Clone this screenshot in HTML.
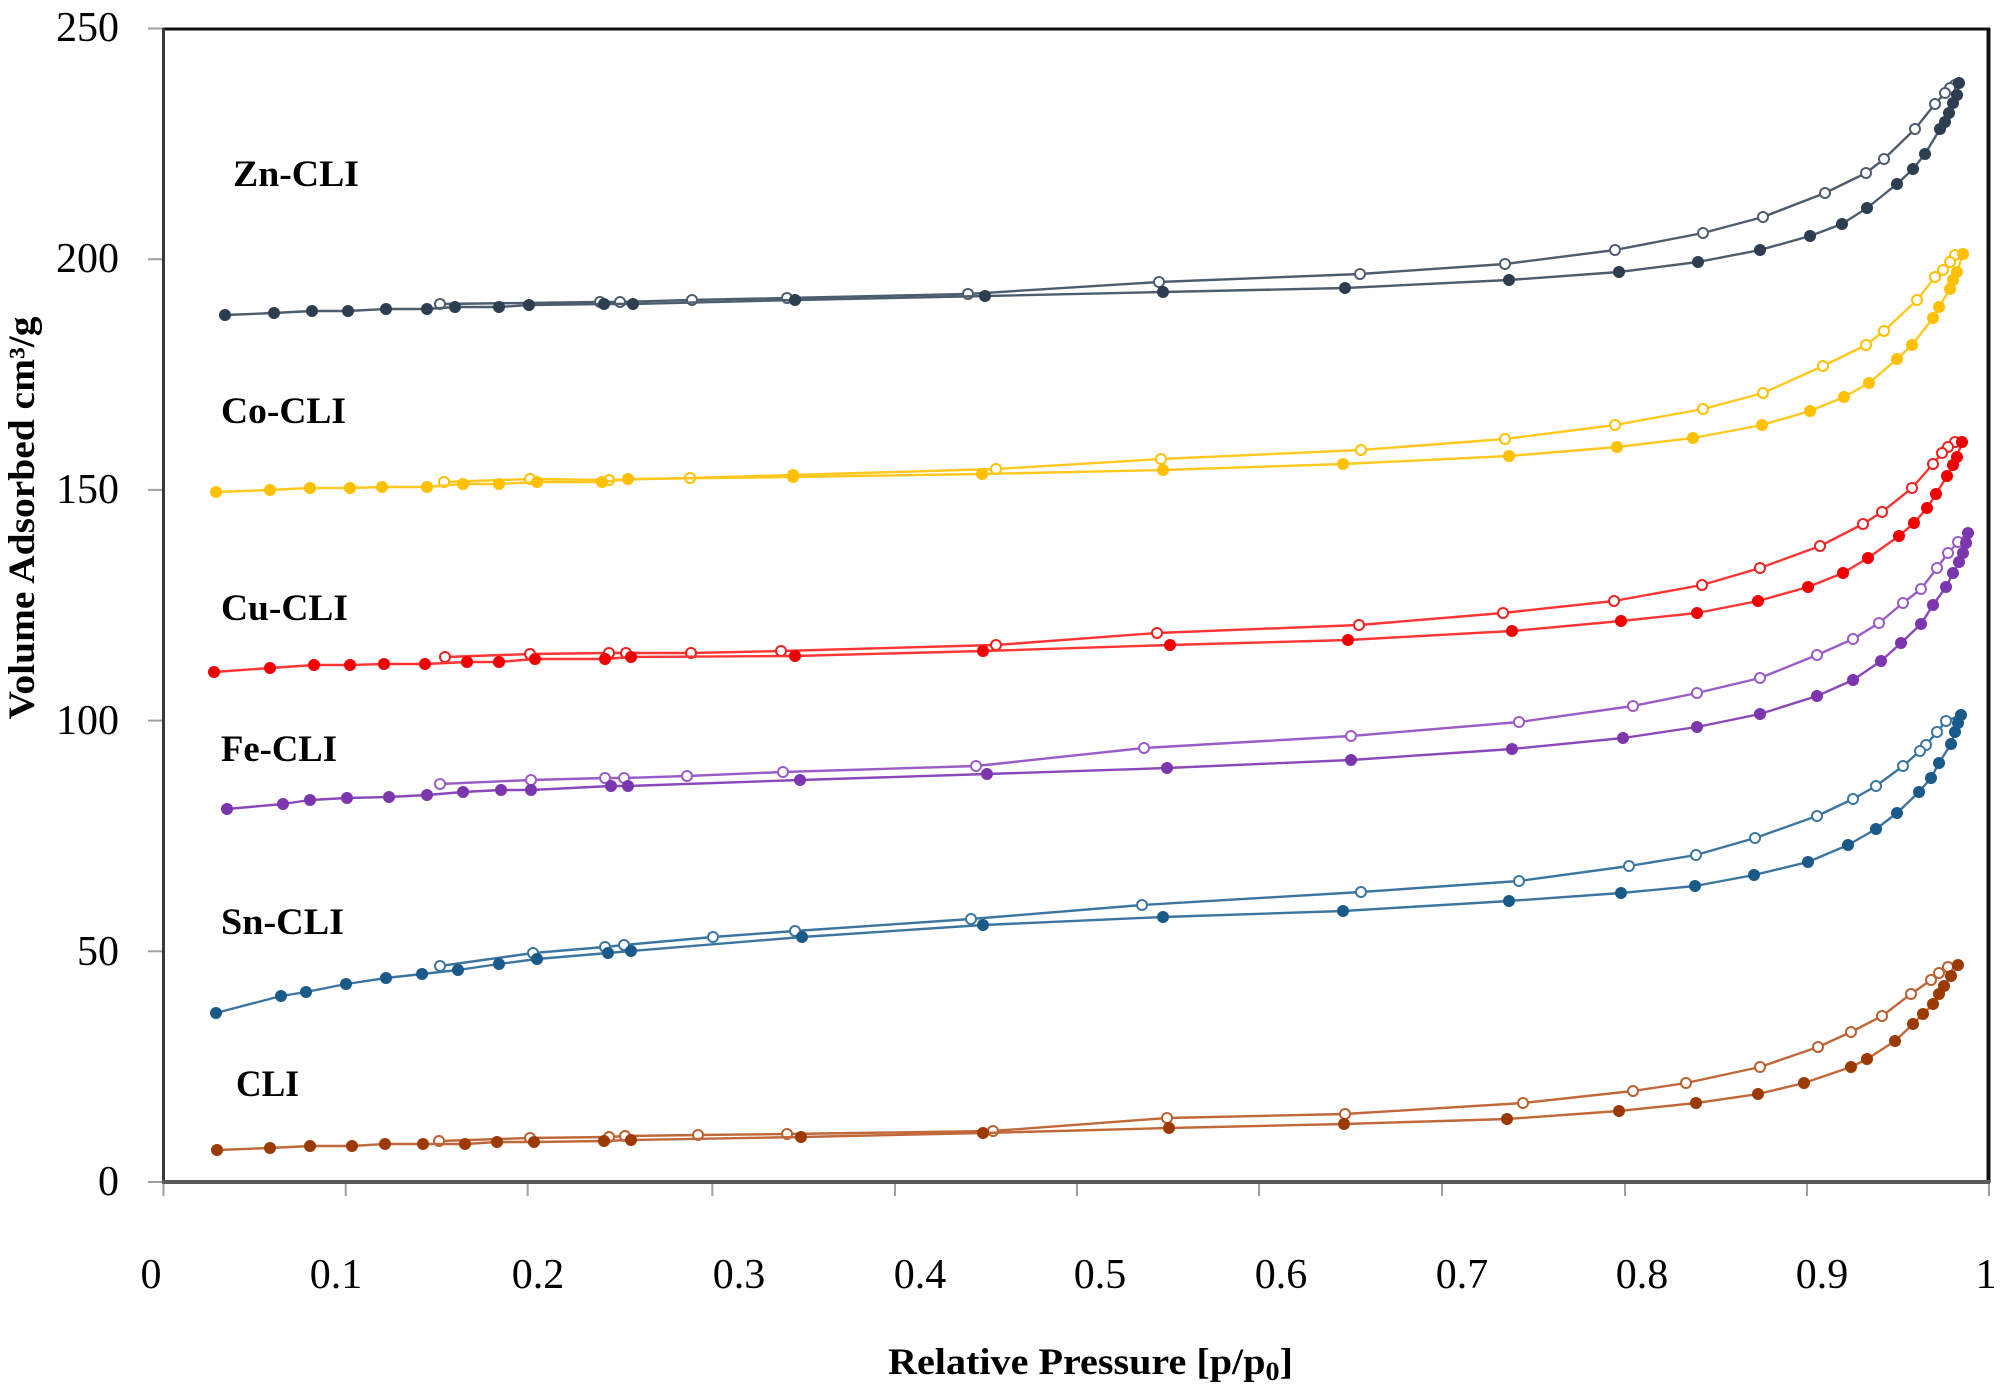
<!DOCTYPE html>
<html><head><meta charset="utf-8"><style>
html,body{margin:0;padding:0;background:#fff;}
svg{display:block;}
text{font-family:"Liberation Serif","DejaVu Serif",serif;fill:#000;}
</style></head><body>
<svg width="2007" height="1396" viewBox="0 0 2007 1396" xmlns="http://www.w3.org/2000/svg">
<defs>
<marker id="fZn" viewBox="0 0 14 14" refX="7" refY="7" markerWidth="14" markerHeight="14" markerUnits="userSpaceOnUse"><circle cx="7" cy="7" r="6" fill="#2C3E50"/></marker>
<marker id="oZn" viewBox="0 0 14 14" refX="7" refY="7" markerWidth="14" markerHeight="14" markerUnits="userSpaceOnUse"><circle cx="7" cy="7" r="5" fill="#fff" stroke="#4D5D6E" stroke-width="2"/></marker>
<marker id="fCo" viewBox="0 0 14 14" refX="7" refY="7" markerWidth="14" markerHeight="14" markerUnits="userSpaceOnUse"><circle cx="7" cy="7" r="6" fill="#FFC000"/></marker>
<marker id="oCo" viewBox="0 0 14 14" refX="7" refY="7" markerWidth="14" markerHeight="14" markerUnits="userSpaceOnUse"><circle cx="7" cy="7" r="5" fill="#fff" stroke="#FFC000" stroke-width="2"/></marker>
<marker id="fCu" viewBox="0 0 14 14" refX="7" refY="7" markerWidth="14" markerHeight="14" markerUnits="userSpaceOnUse"><circle cx="7" cy="7" r="6" fill="#EE0000"/></marker>
<marker id="oCu" viewBox="0 0 14 14" refX="7" refY="7" markerWidth="14" markerHeight="14" markerUnits="userSpaceOnUse"><circle cx="7" cy="7" r="5" fill="#fff" stroke="#F02020" stroke-width="2"/></marker>
<marker id="fFe" viewBox="0 0 14 14" refX="7" refY="7" markerWidth="14" markerHeight="14" markerUnits="userSpaceOnUse"><circle cx="7" cy="7" r="6" fill="#7B35AD"/></marker>
<marker id="oFe" viewBox="0 0 14 14" refX="7" refY="7" markerWidth="14" markerHeight="14" markerUnits="userSpaceOnUse"><circle cx="7" cy="7" r="5" fill="#fff" stroke="#9A5CC6" stroke-width="2"/></marker>
<marker id="fSn" viewBox="0 0 14 14" refX="7" refY="7" markerWidth="14" markerHeight="14" markerUnits="userSpaceOnUse"><circle cx="7" cy="7" r="6" fill="#1A5A88"/></marker>
<marker id="oSn" viewBox="0 0 14 14" refX="7" refY="7" markerWidth="14" markerHeight="14" markerUnits="userSpaceOnUse"><circle cx="7" cy="7" r="5" fill="#fff" stroke="#3B75A0" stroke-width="2"/></marker>
<marker id="fCL" viewBox="0 0 14 14" refX="7" refY="7" markerWidth="14" markerHeight="14" markerUnits="userSpaceOnUse"><circle cx="7" cy="7" r="6" fill="#9C3A05"/></marker>
<marker id="oCL" viewBox="0 0 14 14" refX="7" refY="7" markerWidth="14" markerHeight="14" markerUnits="userSpaceOnUse"><circle cx="7" cy="7" r="5" fill="#fff" stroke="#B9602F" stroke-width="2"/></marker>
</defs>
<rect x="0" y="0" width="2007" height="1396" fill="#fff"/>

<!-- ticks -->
<g stroke="#A0A0A0" stroke-width="2">
<line x1="148" y1="28.5" x2="164" y2="28.5"/>
<line x1="148" y1="259.2" x2="164" y2="259.2"/>
<line x1="148" y1="489.9" x2="164" y2="489.9"/>
<line x1="148" y1="720.6" x2="164" y2="720.6"/>
<line x1="148" y1="951.3" x2="164" y2="951.3"/>
<line x1="148" y1="1182" x2="164" y2="1182"/>
<line x1="163.5" y1="1182" x2="163.5" y2="1196"/>
<line x1="345.7" y1="1182" x2="345.7" y2="1196"/>
<line x1="527.7" y1="1182" x2="527.7" y2="1196"/>
<line x1="712.3" y1="1182" x2="712.3" y2="1196"/>
<line x1="895" y1="1182" x2="895" y2="1196"/>
<line x1="1077" y1="1182" x2="1077" y2="1196"/>
<line x1="1259" y1="1182" x2="1259" y2="1196"/>
<line x1="1442" y1="1182" x2="1442" y2="1196"/>
<line x1="1625" y1="1182" x2="1625" y2="1196"/>
<line x1="1807" y1="1182" x2="1807" y2="1196"/>
<line x1="1989" y1="1182" x2="1989" y2="1196"/>
</g>

<!-- frame -->
<line x1="163.5" y1="29" x2="1990" y2="29" stroke="#111" stroke-width="3"/>
<line x1="1988.5" y1="28" x2="1988.5" y2="1183" stroke="#111" stroke-width="4"/>
<line x1="163.5" y1="28" x2="163.5" y2="1184" stroke="#3A3A3A" stroke-width="3"/>
<line x1="162" y1="1182" x2="1990" y2="1182" stroke="#5A5A5A" stroke-width="4"/>

<!-- y tick labels -->
<g font-size="42" text-anchor="end">
<text x="119" y="41">250</text>
<text x="119" y="272">200</text>
<text x="119" y="503">150</text>
<text x="119" y="734">100</text>
<text x="119" y="965">50</text>
<text x="119" y="1195">0</text>
</g>
<!-- x tick labels -->
<g font-size="42" text-anchor="middle">
<text x="151" y="1288">0</text>
<text x="336" y="1288">0.1</text>
<text x="538" y="1288">0.2</text>
<text x="739" y="1288">0.3</text>
<text x="920" y="1288">0.4</text>
<text x="1100" y="1288">0.5</text>
<text x="1281" y="1288">0.6</text>
<text x="1462" y="1288">0.7</text>
<text x="1642" y="1288">0.8</text>
<text x="1822" y="1288">0.9</text>
<text x="1986" y="1288">1</text>
</g>

<!-- axis titles -->
<text x="888" y="1374" font-size="37" font-weight="bold" textLength="405" lengthAdjust="spacingAndGlyphs">Relative Pressure [p/p<tspan font-size="26" dy="6">0</tspan><tspan dy="-6">]</tspan></text>
<text transform="translate(34,518) rotate(-90)" x="0" y="0" font-size="37" font-weight="bold" text-anchor="middle" textLength="403" lengthAdjust="spacingAndGlyphs">Volume Adsorbed cm³/g</text>

<!-- series labels -->
<g font-size="37" font-weight="bold">
<text x="233" y="186" textLength="126" lengthAdjust="spacingAndGlyphs">Zn-CLI</text>
<text x="221" y="423" textLength="125" lengthAdjust="spacingAndGlyphs">Co-CLI</text>
<text x="221" y="620" textLength="127" lengthAdjust="spacingAndGlyphs">Cu-CLI</text>
<text x="221" y="761" textLength="116" lengthAdjust="spacingAndGlyphs">Fe-CLI</text>
<text x="221" y="934" textLength="123" lengthAdjust="spacingAndGlyphs">Sn-CLI</text>
<text x="236" y="1096" textLength="63" lengthAdjust="spacingAndGlyphs">CLI</text>
</g>

<g fill="none" stroke-width="2.4" stroke-linejoin="round" stroke-linecap="round">
<!-- Zn -->
<polyline stroke="#4D5D6E" marker-mid="url(#oZn)" marker-end="url(#oZn)" points="1959,83 1955,85 1950,88 1945,93 1935,104 1915,129 1884,159 1866,173 1825,193 1763,217 1703,233 1615,250 1505,264 1360,274 1159,282 968,294 787,298 692,300 620,302 600,302 440,304"/>
<polyline stroke="#4D5D6E" marker-start="url(#fZn)" marker-mid="url(#fZn)" marker-end="url(#fZn)" points="225,315 274,313 312,311 348,311 386,309 427,309 455,307 499,307 529,305 604,304 633,304 795,300 985,296 1163,292 1345,288 1509,280 1619,272 1698,262 1760,250 1810,236 1842,224 1867,208 1897,184 1913,169 1925,154 1940,129 1945,122 1949,113 1953,103 1957,95 1959,83"/>
<!-- Co -->
<polyline stroke="#FFC820" marker-mid="url(#oCo)" marker-end="url(#oCo)" points="1963,254 1955,255 1950,262 1943,270 1935,277 1917,300 1884,331 1866,345 1823,366 1763,393 1703,409 1615,425 1505,439 1361,450 1161,459 996,469 793,475 690,478 609,480 530,479 444,482"/>
<polyline stroke="#FFC820" marker-start="url(#fCo)" marker-mid="url(#fCo)" marker-end="url(#fCo)" points="216,492 270,490 310,488 350,488 382,487 427,487 463,484 499,484 537,482 602,482 628,479 793,477 982,474 1163,470 1343,464 1509,456 1617,447 1693,438 1762,425 1810,411 1844,397 1869,383 1897,359 1912,345 1933,318 1939,307 1950,289 1953,280 1957,272 1963,254"/>
<!-- Cu -->
<polyline stroke="#FF3535" marker-mid="url(#oCu)" marker-end="url(#oCu)" points="1962,442 1955,442 1948,447 1942,453 1933,464 1912,488 1882,512 1863,524 1820,546 1760,568 1702,585 1614,601 1503,613 1359,625 1157,633 996,645 781,651 691,653 626,653 609,653 530,654 445,657"/>
<polyline stroke="#FF3535" marker-start="url(#fCu)" marker-mid="url(#fCu)" marker-end="url(#fCu)" points="214,672 270,668 314,665 350,665 384,664 425,664 467,662 499,662 535,659 605,659 631,657 795,656 983,651 1170,645 1348,640 1512,631 1621,621 1697,613 1758,601 1808,587 1843,573 1868,558 1899,536 1914,523 1927,508 1936,494 1947,476 1953,465 1957,457 1962,442"/>
<!-- Fe -->
<polyline stroke="#9A5CC6" marker-mid="url(#oFe)" marker-end="url(#oFe)" points="1968,533 1958,542 1948,553 1937,568 1921,589 1903,603 1879,623 1853,639 1817,655 1760,678 1697,693 1633,706 1519,722 1351,736 1144,748 976,766 783,772 687,776 624,778 605,778 531,780 440,784"/>
<polyline stroke="#8A48BA" marker-start="url(#fFe)" marker-mid="url(#fFe)" marker-end="url(#fFe)" points="227,809 283,804 310,800 347,798 389,797 427,795 463,792 501,790 531,790 611,786 628,786 800,780 987,774 1167,768 1351,760 1512,749 1623,738 1697,727 1760,714 1817,696 1853,680 1881,661 1901,643 1921,624 1933,605 1946,587 1953,573 1959,562 1963,553 1966,543 1968,533"/>
<!-- Sn -->
<polyline stroke="#3B75A0" marker-mid="url(#oSn)" marker-end="url(#oSn)" points="1961,715 1946,721 1937,732 1926,745 1920,751 1903,766 1876,786 1853,799 1817,816 1755,838 1696,855 1629,866 1519,881 1361,892 1142,905 971,919 795,931 713,937 624,945 605,947 533,953 440,966"/>
<polyline stroke="#3B75A0" marker-start="url(#fSn)" marker-mid="url(#fSn)" marker-end="url(#fSn)" points="216,1013 281,996 306,992 346,984 386,978 422,974 458,970 499,964 537,959 608,953 631,951 802,937 983,925 1163,917 1343,911 1509,901 1621,893 1695,886 1754,875 1808,862 1848,845 1876,829 1897,813 1919,792 1931,778 1939,763 1951,744 1955,732 1958,723 1961,715"/>
<!-- CLI -->
<polyline stroke="#C0683A" marker-mid="url(#oCL)" marker-end="url(#oCL)" points="1958,965 1948,967 1939,973 1931,980 1911,994 1882,1016 1851,1032 1818,1047 1760,1067 1686,1083 1633,1091 1523,1103 1345,1114 1167,1118 993,1131 787,1134 698,1135 625,1136 609,1137 530,1138 439,1141"/>
<polyline stroke="#C0683A" marker-start="url(#fCL)" marker-mid="url(#fCL)" marker-end="url(#fCL)" points="217,1150 270,1148 310,1146 352,1146 385,1144 423,1144 465,1144 497,1142 534,1142 604,1141 631,1140 801,1137 983,1133 1169,1128 1344,1124 1507,1119 1619,1111 1696,1103 1758,1094 1804,1083 1851,1067 1867,1059 1895,1041 1913,1024 1923,1014 1933,1004 1939,994 1944,986 1951,976 1958,965"/>
</g>
</svg>
</body></html>
